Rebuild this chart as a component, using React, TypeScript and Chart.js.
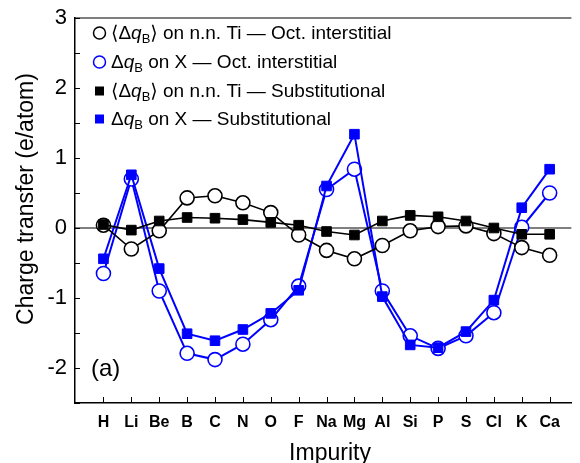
import { useEffect, useRef } from 'react';
import { Chart, registerables } from 'chart.js';

Chart.register(...registerables);

// Impurity species along the x axis
const impurities = ['H', 'Li', 'Be', 'B', 'C', 'N', 'O', 'F', 'Na', 'Mg', 'Al', 'Si', 'P', 'S', 'Cl', 'K', 'Ca'];

// <Δq_B> on nearest-neighbour Ti, octahedral interstitial site
const tiOct = [0.04, -0.3, -0.04, 0.43, 0.46, 0.36, 0.22, -0.1, -0.32, -0.44, -0.25, -0.04, 0.02, 0.03, -0.08, -0.28, -0.39];
// Δq_B on the impurity X, octahedral interstitial site
const xOct = [-0.65, 0.7, -0.9, -1.79, -1.88, -1.66, -1.31, -0.83, 0.55, 0.84, -0.9, -1.54, -1.72, -1.54, -1.21, 0.01, 0.5];
// <Δq_B> on nearest-neighbour Ti, substitutional site
const tiSub = [0.05, -0.03, 0.1, 0.15, 0.14, 0.12, 0.08, 0.04, -0.05, -0.1, 0.1, 0.18, 0.16, 0.1, 0.0, -0.09, -0.09];
// Δq_B on the impurity X, substitutional site
const xSub = [-0.44, 0.76, -0.58, -1.51, -1.61, -1.45, -1.22, -0.89, 0.6, 1.34, -0.98, -1.67, -1.71, -1.48, -1.03, 0.29, 0.84];

// y tick positions (labels only on whole numbers)
const yTicks = [-2.5, -2, -1.5, -1, -0.5, 0, 0.5, 1, 1.5, 2, 2.5, 3];

const FONT = '"Liberation Sans", Arial, Helvetica, "DejaVu Sans", sans-serif';
const BLUE = '#0000ff';
const BLACK = '#000000';

const toPoints = (values: number[]) => values.map((y, x) => ({ x, y }));

type Part = { t: string; italic?: boolean; sub?: boolean };

const legendRows: { marker: 'circle' | 'rect'; color: string; parts: Part[] }[] = [
  {
    marker: 'circle',
    color: BLACK,
    parts: [{ t: '\u27E8\u0394' }, { t: 'q', italic: true }, { t: 'B', sub: true }, { t: '\u27E9 on n.n. Ti \u2014 Oct. interstitial' }],
  },
  {
    marker: 'circle',
    color: BLUE,
    parts: [{ t: '\u0394' }, { t: 'q', italic: true }, { t: 'B', sub: true }, { t: ' on X \u2014 Oct. interstitial' }],
  },
  {
    marker: 'rect',
    color: BLACK,
    parts: [{ t: '\u27E8\u0394' }, { t: 'q', italic: true }, { t: 'B', sub: true }, { t: '\u27E9 on n.n. Ti \u2014 Substitutional' }],
  },
  {
    marker: 'rect',
    color: BLUE,
    parts: [{ t: '\u0394' }, { t: 'q', italic: true }, { t: 'B', sub: true }, { t: ' on X \u2014 Substitutional' }],
  },
];

function drawParts(ctx: CanvasRenderingContext2D, x: number, y: number, parts: Part[]) {
  let cx = x;
  for (const p of parts) {
    const size = p.sub ? 13 : 19;
    ctx.font = `${p.italic ? 'italic ' : ''}${size}px ${FONT}`;
    ctx.fillText(p.t, cx, p.sub ? y + 4 : y);
    cx += ctx.measureText(p.t).width;
  }
}

const decorations = {
  id: 'decorations',
  beforeDatasetsDraw(chart: any) {
    const { ctx, chartArea } = chart;
    const y0 = chart.scales.y.getPixelForValue(0);
    ctx.save();
    ctx.strokeStyle = BLACK;
    ctx.lineWidth = 1;
    ctx.beginPath();
    ctx.moveTo(chartArea.left, y0);
    ctx.lineTo(chartArea.right, y0);
    ctx.stroke();
    ctx.restore();
  },
  afterDraw(chart: any) {
    const { ctx, chartArea } = chart;
    const xs = chart.scales.x;
    const ys = chart.scales.y;
    ctx.save();
    ctx.strokeStyle = BLACK;
    ctx.fillStyle = BLACK;

    // top frame line
    ctx.lineWidth = 1.2;
    ctx.beginPath();
    ctx.moveTo(chartArea.left, chartArea.top);
    ctx.lineTo(chartArea.right, chartArea.top);
    ctx.stroke();

    // inward tick marks
    ctx.lineWidth = 1;
    ctx.beginPath();
    impurities.forEach((_, i) => {
      const px = Math.round(xs.getPixelForValue(i)) + 0.5;
      ctx.moveTo(px, chartArea.bottom);
      ctx.lineTo(px, chartArea.bottom - 6);
    });
    yTicks.forEach((v) => {
      const py = Math.round(ys.getPixelForValue(v)) + 0.5;
      ctx.moveTo(chartArea.left, py);
      ctx.lineTo(chartArea.left + 5, py);
    });
    ctx.stroke();

    // legend
    const rowY = [33, 62, 91, 119];
    legendRows.forEach((row, i) => {
      const y = rowY[i];
      ctx.fillStyle = row.color;
      ctx.strokeStyle = row.color;
      if (row.marker === 'circle') {
        ctx.lineWidth = 1.5;
        ctx.beginPath();
        ctx.arc(99.5, y, 6, 0, Math.PI * 2);
        ctx.fillStyle = '#ffffff';
        ctx.fill();
        ctx.stroke();
      } else {
        ctx.fillRect(95, y - 4.5, 9, 9);
      }
      ctx.fillStyle = BLACK;
      ctx.textAlign = 'left';
      ctx.textBaseline = 'alphabetic';
      drawParts(ctx, 111, y + 6, row.parts);
    });

    // panel label
    ctx.fillStyle = BLACK;
    ctx.font = `24px ${FONT}`;
    ctx.textAlign = 'left';
    ctx.fillText('(a)', 91, 376);

    // axis titles
    ctx.font = `23px ${FONT}`;
    ctx.textAlign = 'center';
    ctx.fillText('Impurity', 330, 460);

    ctx.save();
    ctx.translate(33, 199);
    ctx.rotate(-Math.PI / 2);
    ctx.fillText('Charge transfer (e/atom)', 0, 0);
    ctx.restore();

    ctx.restore();
  },
};

export default function App() {
  const canvasRef = useRef<HTMLCanvasElement | null>(null);

  useEffect(() => {
    const canvas = canvasRef.current;
    if (!canvas) return;

    const circleSet = (label: string, values: number[], color: string, order: number) => ({
      label,
      data: toPoints(values),
      borderColor: color,
      borderWidth: color === BLUE ? 2 : 1.6,
      pointStyle: 'circle',
      pointRadius: 7,
      pointBorderWidth: 1.6,
      pointBackgroundColor: '#ffffff',
      pointBorderColor: color,
      tension: 0,
      fill: false,
      order,
    });
    const squareSet = (label: string, values: number[], color: string, order: number) => ({
      label,
      data: toPoints(values),
      borderColor: color,
      borderWidth: color === BLUE ? 2 : 1.6,
      pointStyle: 'rect',
      pointRadius: 6.8,
      pointBorderWidth: 1,
      pointBackgroundColor: color,
      pointBorderColor: color,
      tension: 0,
      fill: false,
      order,
    });

    const chart = new Chart(canvas, {
      type: 'line',
      data: {
        datasets: [
          squareSet('tiSub', tiSub, BLACK, 1),
          circleSet('tiOct', tiOct, BLACK, 2),
          squareSet('xSub', xSub, BLUE, 3),
          circleSet('xOct', xOct, BLUE, 4),
        ] as any,
      },
      options: {
        responsive: false,
        animation: false,
        layout: { padding: { top: 18, left: 0, right: 0, bottom: 0 } },
        plugins: {
          legend: { display: false },
          tooltip: { enabled: false },
        },
        scales: {
          x: {
            type: 'linear',
            min: -1.02,
            max: 16.78,
            afterBuildTicks: (s: any) => {
              s.ticks = impurities.map((_, i) => ({ value: i }));
            },
            afterFit: (s: any) => {
              s.height = 60;
              s.paddingLeft = 0;
              s.paddingRight = 0;
            },
            ticks: {
              autoSkip: false,
              maxRotation: 0,
              padding: 10,
              color: BLACK,
              font: { family: FONT, size: 16, weight: 'bold' },
              callback: (v: any) => impurities[v] ?? '',
            },
            grid: { display: false, drawTicks: false },
            border: { display: true, color: BLACK, width: 1.5 },
          },
          y: {
            type: 'linear',
            min: -2.5,
            max: 3,
            afterBuildTicks: (s: any) => {
              s.ticks = yTicks.map((v) => ({ value: v }));
            },
            afterFit: (s: any) => {
              s.width = 75;
              s.paddingTop = 0;
              s.paddingBottom = 0;
            },
            ticks: {
              padding: 8,
              color: BLACK,
              font: { family: FONT, size: 22 },
              callback: (v: any) => (Number.isInteger(v) ? String(v) : ''),
            },
            grid: { display: false, drawTicks: false },
            border: { display: true, color: BLACK, width: 1.5 },
          },
        },
      } as any,
      plugins: [decorations],
    });

    return () => chart.destroy();
  }, []);

  return (
    <div style={{ position: 'absolute', left: 0, top: 0, width: 580, height: 463, background: '#ffffff' }}>
      <canvas ref={canvasRef} width={580} height={463} style={{ display: 'block' }} />
    </div>
  );
}
